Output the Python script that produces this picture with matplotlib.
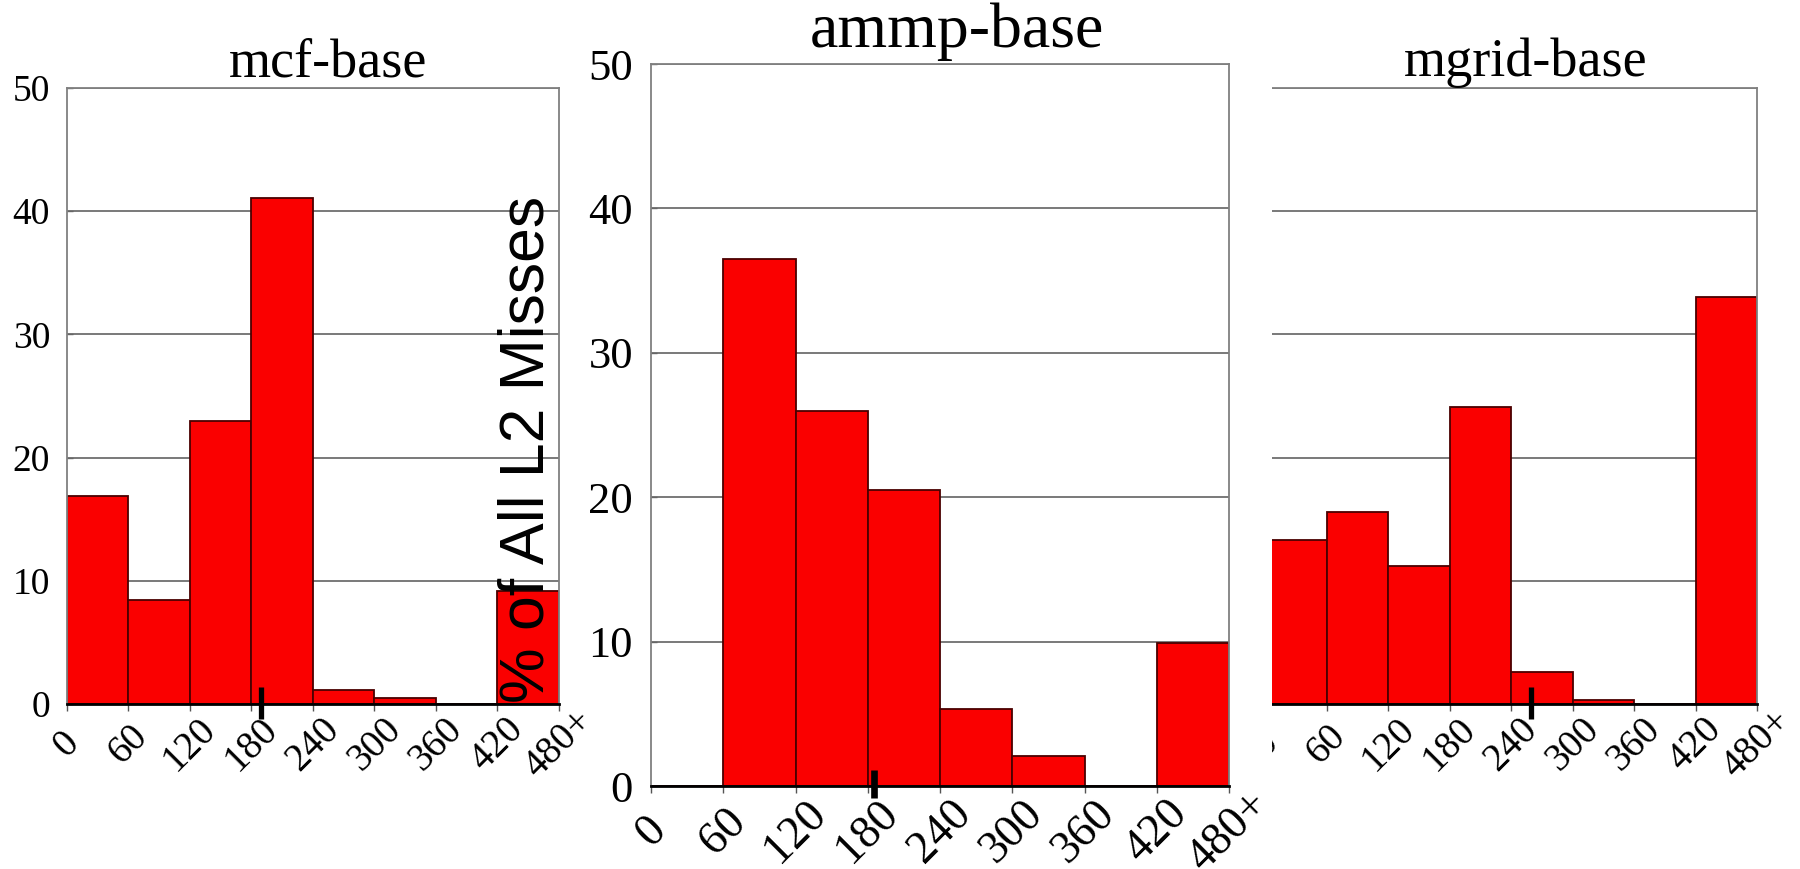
import matplotlib.pyplot as plt
from matplotlib.patches import Rectangle

bin_starts = [0, 60, 120, 180, 240, 300, 360, 420]
tick_pos = [0, 60, 120, 180, 240, 300, 360, 420, 480]
tick_labels = ['0', '60', '120', '180', '240', '300', '360', '420', '480+']
y_ticks = [0, 10, 20, 30, 40, 50]

mcf_values = [16.9, 8.4, 23.0, 41.1, 1.1, 0.5, 0.0, 9.2]
ammp_values = [0.0, 36.5, 26.0, 20.5, 5.3, 2.1, 0.0, 9.9]
mgrid_values = [13.3, 15.6, 11.2, 24.1, 2.6, 0.3, 0.0, 33.0]

mcf_mark = 189
ammp_mark = 185
mgrid_mark = 259

SERIF = ['Liberation Serif', 'DejaVu Serif']

fig = plt.figure(figsize=(18, 8.69), dpi=100)

ax_mcf = fig.add_axes([0.03706, 0.1899, 0.2735, 0.7088], zorder=1)
ax_ammp = fig.add_axes([0.3617, 0.0955, 0.3211, 0.8308], zorder=3)
ax_mgrid = fig.add_axes([0.7030, 0.1899, 0.2731, 0.7088], zorder=0)


def draw_panel(ax, values, title, mark, tsize, fsize, xpad, ypad, tpad, mark_lo, mark_hi, mark_w):
    ax.bar(bin_starts, values, width=60, align='edge', color='#fa0000',
           edgecolor='#4a0000', linewidth=1.3, zorder=2)
    ax.set_xlim(0, 480)
    ax.set_ylim(0, 50)
    ax.set_yticks(y_ticks)
    ax.set_yticklabels([str(v) for v in y_ticks], family=SERIF, fontsize=fsize)
    ax.set_xticks(tick_pos)
    ax.set_xticklabels(tick_labels, family=SERIF, fontsize=fsize + 1,
                       rotation=45, ha='center', va='center')
    ax.tick_params(axis='x', length=5, width=1.0, color='#555555', pad=xpad)
    ax.tick_params(axis='y', length=4, width=1.0, color='#666666', direction='in', pad=ypad)
    ax.grid(axis='y', color='#555555', linewidth=1.1, zorder=1)
    ax.set_axisbelow(True)
    for side in ['left', 'top', 'right']:
        ax.spines[side].set_color('#808080')
        ax.spines[side].set_linewidth(1.3)
    ax.spines['bottom'].set_color('black')
    ax.spines['bottom'].set_linewidth(2.0)
    ax.spines['bottom'].set_zorder(3)
    ax.set_title(title, family=SERIF, fontsize=tsize, pad=tpad, x=0.53)
    ax.plot([mark, mark], [mark_lo, mark_hi], color='black', linewidth=mark_w,
            solid_capstyle='butt', clip_on=False, zorder=5)


draw_panel(ax_mcf, mcf_values, 'mcf-base', mcf_mark, 39, 27, 24, 12, 8, -1.2, 1.4, 3.8)
draw_panel(ax_ammp, ammp_values, 'ammp-base', ammp_mark, 46, 32, 28, 13, 12, -0.85, 1.1, 4.8)
draw_panel(ax_mgrid, mgrid_values, 'mgrid-base', mgrid_mark, 39, 27, 24, 12, 8, -1.2, 1.4, 3.8)

# right panel: its left edge is hidden behind the middle one
ax_mgrid.spines['left'].set_visible(False)
ax_mgrid.tick_params(axis='y', labelleft=False, length=0)
fig.add_artist(Rectangle((1232 / 1800, 1 - 760 / 869), (1271.5 - 1232) / 1800, 760 / 869,
                         transform=fig.transFigure, facecolor='white', edgecolor='none',
                         zorder=2))

fig.text(0.2930, 0.4825, '% of All L2 Misses', rotation=90, ha='center', va='center',
         family=['Liberation Sans', 'DejaVu Sans'], fontsize=45, zorder=10)

fig.savefig('out.png', dpi=100, facecolor='white')
